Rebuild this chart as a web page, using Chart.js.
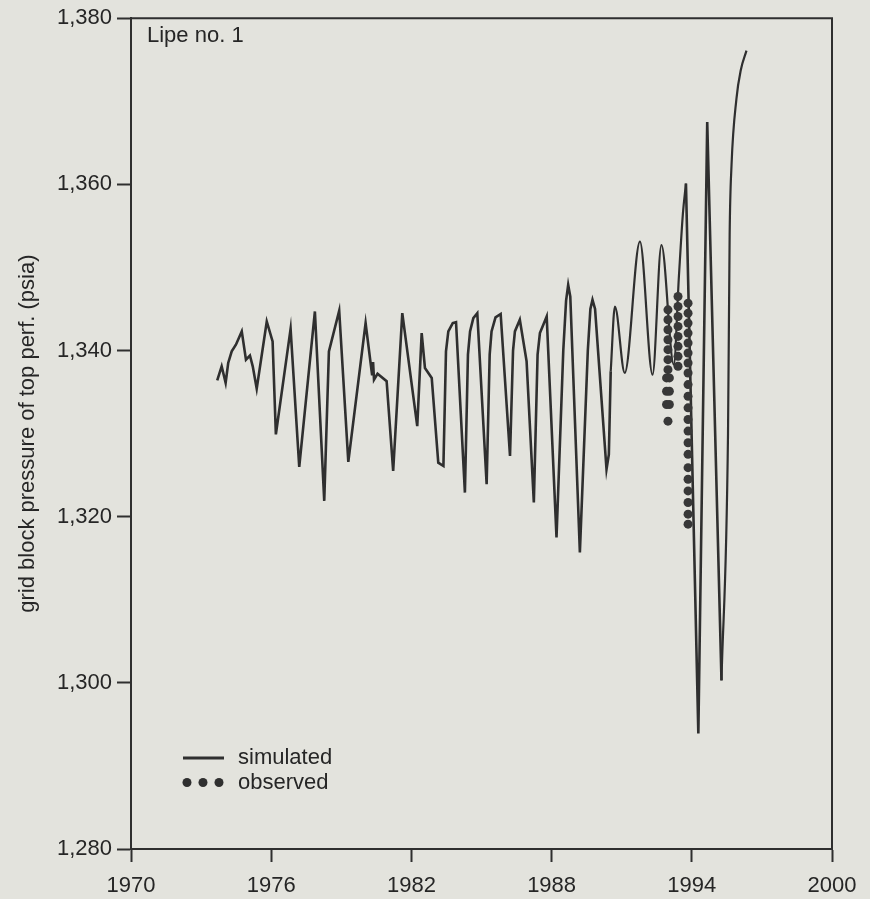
<!DOCTYPE html>
<html>
<head>
<meta charset="utf-8">
<script src="https://cdn.jsdelivr.net/npm/chart.js@4/dist/chart.umd.min.js"></script>
<style>
  html, body { margin: 0; padding: 0; background: #e3e3dd; }
  canvas { display: block; }
</style>
</head>
<body>
<canvas id="pressureChart" width="870" height="899"></canvas>
<script>
// ---- data ----
const X_TICKS = [1970, 1976, 1982, 1988, 1994, 2000];
const Y_TICKS = [1280, 1300, 1320, 1340, 1360, 1380];

// simulated pressure (year, psia)
const simYears = [
  1973.69, 1973.88, 1974.05, 1974.16, 1974.31, 1974.49, 1974.74, 1974.92, 1975.09, 1975.21,
  1975.38, 1975.81, 1976.06, 1976.20, 1976.83, 1977.20, 1977.87, 1978.27, 1978.47, 1978.91,
  1979.30, 1980.04, 1980.32, 1980.36, 1980.40, 1980.55, 1980.94, 1981.22, 1981.61, 1982.25,
  1982.44, 1982.58, 1982.87, 1983.15, 1983.37, 1983.48, 1983.58, 1983.77, 1983.91, 1984.29,
  1984.42, 1984.51, 1984.65, 1984.82, 1985.22, 1985.35, 1985.43, 1985.60, 1985.82, 1986.22,
  1986.35, 1986.43, 1986.64, 1986.93, 1987.24, 1987.40, 1987.50, 1987.79, 1988.21, 1988.50,
  1988.62, 1988.71, 1988.80, 1989.21, 1989.55, 1989.66, 1989.75, 1989.86, 1990.35, 1990.45,
  1990.53, 1990.71, 1991.13, 1991.78, 1992.32, 1992.70, 1993.23, 1993.45, 1993.62,
  1993.75, 1994.28, 1994.66, 1995.27, 1995.55, 1995.62, 1995.70, 1995.91, 1996.10, 1996.34
];
const simPsia = [
  1336.4, 1338.1, 1336.1, 1338.5, 1339.9, 1340.7, 1342.3, 1338.9, 1339.4, 1338.1,
  1335.4, 1343.5, 1341.1, 1329.9, 1342.6, 1326.0, 1344.7, 1321.9, 1339.9, 1344.8,
  1326.6, 1343.3, 1337.0, 1338.6, 1336.5, 1337.2, 1336.3, 1325.5, 1344.5, 1330.9,
  1342.1, 1337.9, 1336.7, 1326.5, 1326.1, 1339.9, 1342.3, 1343.3, 1343.4, 1322.9,
  1339.5, 1342.3, 1343.9, 1344.5, 1323.9, 1339.5, 1342.3, 1344.0, 1344.4, 1327.3,
  1340.0, 1342.3, 1343.7, 1338.7, 1321.7, 1339.5, 1342.1, 1344.1, 1317.5, 1340.0,
  1346.0, 1347.9, 1346.5, 1315.7, 1340.0, 1345.0, 1346.1, 1345.0, 1325.7, 1327.5,
  1337.5, 1345.3, 1337.3, 1353.1, 1337.1, 1352.7, 1338.3, 1349.0, 1356.5,
  1360.1, 1293.9, 1367.5, 1300.3, 1330.0, 1354.0, 1362.3, 1370.3, 1373.8, 1376.1
];

// observed pressure (year, psia)
const obsYears = [
  1992.98, 1992.98, 1992.98, 1992.98, 1992.98, 1992.98, 1992.98, 1992.92, 1993.04, 1992.92,
  1993.04, 1992.92, 1993.04, 1992.98,
  1993.41, 1993.41, 1993.41, 1993.41, 1993.41, 1993.41, 1993.41, 1993.41,
  1993.84, 1993.84, 1993.84, 1993.84, 1993.84, 1993.84, 1993.84, 1993.84, 1993.84, 1993.84,
  1993.84, 1993.84, 1993.84, 1993.84, 1993.84, 1993.84, 1993.84, 1993.84, 1993.84, 1993.84,
  1993.84
];
const obsPsia = [
  1344.9, 1343.7, 1342.5, 1341.3, 1340.1, 1338.9, 1337.7, 1336.7, 1336.7, 1335.1,
  1335.1, 1333.5, 1333.5, 1331.5,
  1346.5, 1345.3, 1344.1, 1342.9, 1341.7, 1340.5, 1339.3, 1338.1,
  1345.7, 1344.5, 1343.3, 1342.1, 1340.9, 1339.7, 1338.5, 1337.3, 1335.9, 1334.5,
  1333.1, 1331.7, 1330.3, 1328.9, 1327.5, 1325.9, 1324.5, 1323.1, 1321.7, 1320.3,
  1319.1
];

// the simulated trace alternates between straight and smooth pieces in the original
const RUN_BREAKS = [1990.53, 1993.75, 1995.27];

const INK      = '#2f2f2f';
const TEXT     = '#262626';
const PAPER    = '#e3e3dd';
const FONT     = '"Liberation Sans", Arial, Helvetica, sans-serif';

const simPoints = simYears.map((y, i) => ({ x: y, y: simPsia[i] }));

function simRuns() {
  const edges = [-Infinity, ...RUN_BREAKS, Infinity];
  const runs = [];
  for (let i = 0; i < edges.length - 1; i++) {
    const smooth = i % 2 === 1;
    runs.push({
      label: 'simulated',
      data: simPoints.filter(p => p.x >= edges[i] && p.x <= edges[i + 1]),
      showLine: true,
      borderColor: INK,
      borderWidth: smooth ? 2.2 : 2.6,
      pointRadius: 0,
      tension: 0,
      cubicInterpolationMode: smooth ? 'monotone' : 'default'
    });
  }
  return runs;
}

// paper background + frame + inline annotations
const decor = {
  id: 'decor',
  beforeDraw(chart) {
    const c = chart.ctx;
    c.save();
    c.fillStyle = PAPER;
    c.fillRect(0, 0, chart.width, chart.height);
    c.restore();
  },
  afterDraw(chart) {
    const c = chart.ctx;
    const a = chart.chartArea;
    c.save();
    // top and right frame lines
    c.strokeStyle = INK;
    c.lineWidth = 2;
    c.beginPath();
    c.moveTo(a.left, a.top);
    c.lineTo(a.right, a.top);
    c.lineTo(a.right, a.bottom);
    c.stroke();

    c.fillStyle = TEXT;
    c.font = '22px ' + FONT;
    c.textBaseline = 'alphabetic';
    c.textAlign = 'left';
    c.fillText('Lipe no. 1', 147, 41.5);

    // legend
    c.strokeStyle = INK;
    c.lineWidth = 3;
    c.beginPath();
    c.moveTo(183, 758);
    c.lineTo(224, 758);
    c.stroke();
    c.fillStyle = INK;
    [187, 203, 219].forEach(x => {
      c.beginPath();
      c.arc(x, 782.5, 4.5, 0, Math.PI * 2);
      c.fill();
    });
    c.fillStyle = TEXT;
    c.fillText('simulated', 238, 764);
    c.fillText('observed', 238, 788.5);
    c.restore();
  }
};

new Chart(document.getElementById('pressureChart'), {
  type: 'scatter',
  data: {
    datasets: [
      {
        label: 'observed',
        data: obsYears.map((y, i) => ({ x: y, y: obsPsia[i] })),
        showLine: false,
        pointRadius: 4.5,
        pointBackgroundColor: '#383838',
        pointBorderWidth: 0
      },
      ...simRuns()
    ]
  },
  options: {
    responsive: false,
    animation: false,
    events: [],
    layout: { padding: { left: 0, right: 38, top: 16, bottom: 0 } },
    plugins: {
      legend: { display: false },
      tooltip: { enabled: false }
    },
    scales: {
      x: {
        type: 'linear',
        min: 1970, max: 2000,
        afterFit: s => { s.height = 50; },
        afterBuildTicks: s => { s.ticks = X_TICKS.map(v => ({ value: v })); },
        grid: { drawOnChartArea: false, drawTicks: true, tickLength: 13, tickWidth: 2, tickColor: INK },
        border: { display: true, color: INK, width: 2 },
        ticks: {
          color: TEXT, padding: 11,
          font: { family: FONT, size: 22 },
          callback: v => String(v)
        }
      },
      y: {
        min: 1280, max: 1380,
        afterFit: s => { s.width = 131; },
        afterBuildTicks: s => { s.ticks = Y_TICKS.map(v => ({ value: v })); },
        grid: { drawOnChartArea: false, drawTicks: true, tickLength: 14, tickWidth: 2, tickColor: INK },
        border: { display: true, color: INK, width: 2 },
        ticks: {
          color: TEXT, padding: 5,
          font: { family: FONT, size: 22 },
          callback: v => v.toLocaleString('en-US')
        },
        title: {
          display: true,
          text: 'grid block pressure of top perf. (psia)',
          color: TEXT,
          font: { family: FONT, size: 22 },
          padding: { top: 15, bottom: 0 }
        }
      }
    }
  },
  plugins: [decor]
});
</script>
</body>
</html>
